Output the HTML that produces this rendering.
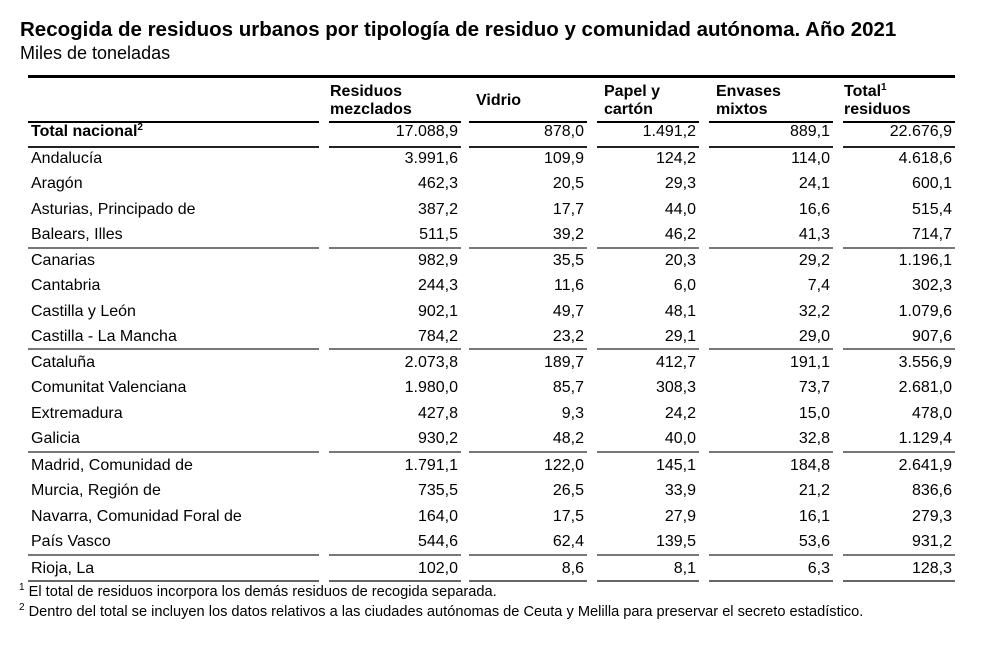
<!DOCTYPE html>
<html><head><meta charset="utf-8"><style>
body{margin:0;width:995px;height:649px;background:#fff;font-family:"Liberation Sans",Arial,sans-serif;color:#000;position:relative;overflow:hidden}
.t{position:absolute;white-space:nowrap;line-height:1}
.ln{position:absolute;height:0}
.c{position:absolute;white-space:nowrap;font-size:16px;line-height:1}
.r{text-align:right}
sup{font-size:10px;vertical-align:6px;line-height:0}
.fn{font-size:14.6px}
</style></head><body>
<div class="t" style="left:20px;top:20px;font-size:20.5px;font-weight:bold">Recogida de residuos urbanos por tipología de residuo y comunidad autónoma. Año 2021</div>
<div class="t" style="left:20px;top:44px;font-size:18px">Miles de toneladas</div>
<div class="ln" style="left:28px;width:927px;top:75px;border-top:3px solid #000"></div>
<div id="tbl"></div>
<div class="t fn" style="left:19px;top:585px"><sup>1</sup> El total de residuos incorpora los demás residuos de recogida separada.</div>
<div class="t fn" style="left:19px;top:605px"><sup>2</sup> Dentro del total se incluyen los datos relativos a las ciudades autónomas de Ceuta y Melilla para preservar el secreto estadístico.</div>
<script>
const headers=["Residuos<br>mezclados","Vidrio","Papel y<br>cartón","Envases<br>mixtos","Total<sup>1</sup><br>residuos"];
const regions=["Andalucía","Aragón","Asturias, Principado de","Balears, Illes","Canarias","Cantabria","Castilla y León","Castilla - La Mancha","Cataluña","Comunitat Valenciana","Extremadura","Galicia","Madrid, Comunidad de","Murcia, Región de","Navarra, Comunidad Foral de","País Vasco","Rioja, La"];
const totalRow=["17.088,9","878,0","1.491,2","889,1","22.676,9"];
const mezclados=["3.991,6","462,3","387,2","511,5","982,9","244,3","902,1","784,2","2.073,8","1.980,0","427,8","930,2","1.791,1","735,5","164,0","544,6","102,0"];
const vidrio=["109,9","20,5","17,7","39,2","35,5","11,6","49,7","23,2","189,7","85,7","9,3","48,2","122,0","26,5","17,5","62,4","8,6"];
const papel=["124,2","29,3","44,0","46,2","20,3","6,0","48,1","29,1","412,7","308,3","24,2","40,0","145,1","33,9","27,9","139,5","8,1"];
const envases=["114,0","24,1","16,6","41,3","29,2","7,4","32,2","29,0","191,1","73,7","15,0","32,8","184,8","21,2","16,1","53,6","6,3"];
const totales=["4.618,6","600,1","515,4","714,7","1.196,1","302,3","1.079,6","907,6","3.556,9","2.681,0","478,0","1.129,4","2.641,9","836,6","279,3","931,2","128,3"];
const series=[mezclados,vidrio,papel,envases,totales];
const segs=[[28,319],[329,461],[469,587],[597,699],[709,833],[843,955]];
const tb=document.getElementById('tbl');
function div(cls,style,html){const d=document.createElement('div');d.className=cls;d.style.cssText=style;if(html!==undefined)d.innerHTML=html;tb.appendChild(d);return d;}
function rule(y,w,col,nm){segs.forEach((s,i)=>{const d=div('ln',`left:${s[0]}px;width:${s[1]-s[0]}px;top:${y}px;border-top:${w}px solid ${col}`);

});}
headers.forEach((h,i)=>{const two=h.includes('<br>');const d=div('c',`left:${segs[i+1][0]+(i==0?1:i==4?1:7)}px;top:${two?83:92}px;font-weight:bold;line-height:18px`,h);

});
rule(121,2,'#000','header-rule');
let d=div('c','left:31px;top:124px;font-weight:bold','Total nacional<sup>2</sup>');


totalRow.forEach((v,i)=>{const e=div('c r',`left:${segs[i+1][0]}px;width:${segs[i+1][1]-segs[i+1][0]-3}px;top:124px`,v);

});
rule(146,2,'#222','total-rule');
const groupY=[159,261,363,466,569];
regions.forEach((r,k)=>{const g=Math.floor(k/4)>4?4:Math.floor(k/4);const y=groupY[g]+(k-g*4)*25.4-8;
const l=div('c',`left:31px;top:${y}px`,r);


series.forEach((s,i)=>{const e=div('c r',`left:${segs[i+1][0]}px;width:${segs[i+1][1]-segs[i+1][0]-3}px;top:${y}px`,s[k]);

});});
[247,348,451,554].forEach(y=>rule(y,2,'#777','group-rule'));
rule(580,2,'#666','bottom-rule');
</script>
</body></html>
